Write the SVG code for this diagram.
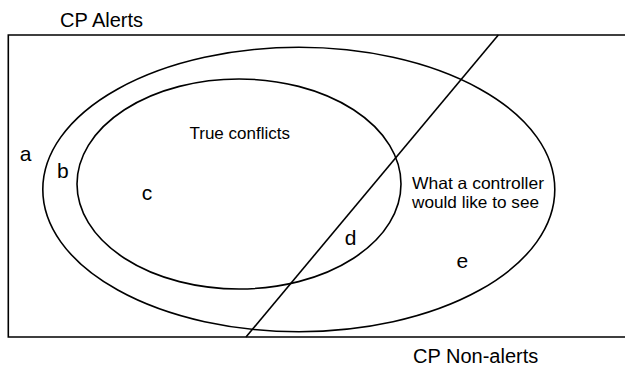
<svg xmlns="http://www.w3.org/2000/svg" width="625" height="365" viewBox="0 0 625 365">
  <style>
    .ln { fill: none; stroke: #000; stroke-width: 1.6; }
    .t { font-family: "Liberation Sans", Arial, sans-serif; fill: #000; }
    .big { font-size: 20px; }
    .mid { font-size: 17px; }
    .note { font-size: 16.5px; }
    .lbl { font-size: 21px; }
  </style>
  <rect width="625" height="365" fill="#fff"/>
  <g id="frame">
    <path class="ln" d="M626,35 H8.3 V337 H626"/>
    <text class="t big" x="60" y="27.3">CP Alerts</text>
    <text class="t big" x="413" y="362.5">CP Non-alerts</text>
  </g>
  <g id="cp-alerts-region">
    <ellipse class="ln" cx="298.8" cy="189.5" rx="256" ry="142.2"/>
  </g>
  <g id="true-conflicts">
    <ellipse class="ln" cx="239" cy="184" rx="162" ry="105"/>
    <text class="t mid" x="189.5" y="139.3">True conflicts</text>
  </g>
  <g id="connectors">
    <line class="ln" x1="498.3" y1="35" x2="246" y2="337"/>
  </g>
  <g id="controller-view">
    <text class="t note" x="412" y="189" textLength="132" lengthAdjust="spacingAndGlyphs">What a controller</text>
    <text class="t note" x="412" y="207.5" textLength="127" lengthAdjust="spacingAndGlyphs">would like to see</text>
  </g>
  <g id="labels">
    <text class="t lbl" x="19.8" y="161">a</text>
    <text class="t lbl" x="57" y="177.7">b</text>
    <text class="t lbl" x="141.7" y="200">c</text>
    <text class="t lbl" x="344.8" y="245">d</text>
    <text class="t lbl" x="456.5" y="268.3">e</text>
  </g>
</svg>
